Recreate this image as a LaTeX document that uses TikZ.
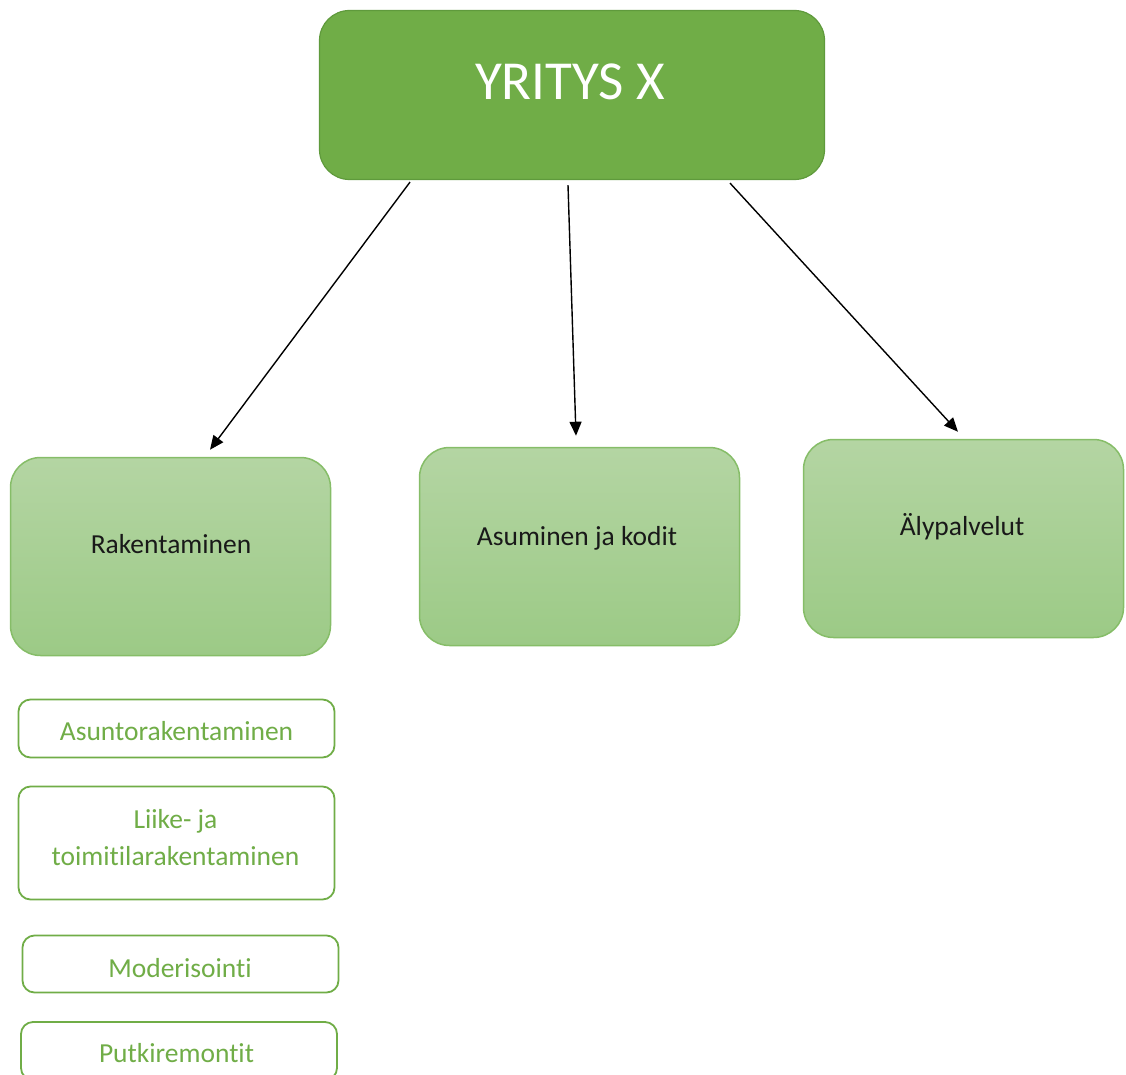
\documentclass[tikz,border=0pt]{standalone}
\usepackage{fontspec}
\setmainfont{Carlito}[Ligatures={NoCommon,NoRare,NoContextual}]
\usetikzlibrary{arrows.meta}
\definecolor{topgreen}{HTML}{70AD47}
\definecolor{topborder}{HTML}{5F9A3C}
\definecolor{midtop}{HTML}{B4D5A3}
\definecolor{midbot}{HTML}{9CCA86}
\definecolor{midborder}{HTML}{86BD68}
\definecolor{subgreen}{HTML}{70AD47}
\tikzset{
  topbox/.style={draw=topborder, line width=1.2pt, fill=topgreen, rounded corners=30pt, minimum width=505pt, minimum height=169pt, inner sep=0pt},
  midbox/.style={draw=midborder, line width=1.5pt, top color=midtop, bottom color=midbot, rounded corners=30pt, minimum width=320pt, minimum height=198pt, inner sep=0pt},
  subbox/.style={draw=subgreen, line width=1.8pt, fill=white, rounded corners=12pt, minimum width=316pt, inner sep=0pt},
  bigtxt/.style={anchor=base, text=white, font=\fontsize{55}{60}\selectfont, inner sep=0pt},
  midtxt/.style={anchor=base, text=black!90, font=\fontsize{27.5}{33}\selectfont, inner sep=0pt},
  subtxt/.style={anchor=base, text=subgreen, font=\fontsize{27.5}{33}\selectfont, inner sep=0pt},
  arr/.style={line width=1.4pt, -{Triangle[length=14pt,width=12pt]}}
}
\begin{document}
\begin{tikzpicture}[x=1pt,y=-1pt]
\useasboundingbox (0,0) rectangle (1126,1075);
% boxes
\node[topbox] (top) at (572,95) {};
\node[midbox] (rak) at (170.5,556.5) {};
\node[midbox] (asu) at (579.5,546.5) {};
\node[midbox] (aly) at (963.5,538.5) {};
\node[subbox, minimum height=58pt] (s1) at (176.5,728.5) {};
\node[subbox, minimum height=113pt] (s2) at (176.5,843) {};
\node[subbox, minimum height=57pt] (s3) at (180.5,964) {};
\node[subbox, minimum height=58pt] (s4) at (179,1051) {};
% texts
\node[bigtxt] (topt) at (570,100) {YRITYS X};
\node[midtxt] (rakt) at (171,553) {Rakentaminen};
\node[midtxt] (asut) at (577,545) {Asuminen ja kodit};
\node[midtxt] (alyt) at (962,535) {Älypalvelut};
\node[subtxt] (s1t) at (176.5,740) {Asuntorakentaminen};
\node[subtxt] (s2a) at (175.5,828) {Liike- ja};
\node[subtxt] (s2b) at (175.5,865) {toimitilarakentaminen};
\node[subtxt] (s3t) at (180,977) {Moderisointi};
\node[subtxt] (s4t) at (176.5,1062) {Putkiremontit};
% arrows
\draw[arr] ([xshift=-162pt,yshift=-2pt]top.south) -- ([xshift=39.5pt,yshift=7pt]rak.north);
\draw[arr] ([xshift=-4pt,yshift=-5pt]top.south) -- ([xshift=-3.5pt,yshift=11pt]asu.north);
\draw[arr] ([xshift=158pt,yshift=-3pt]top.south) -- ([xshift=-5.5pt,yshift=7pt]aly.north);
\end{tikzpicture}
\end{document}
